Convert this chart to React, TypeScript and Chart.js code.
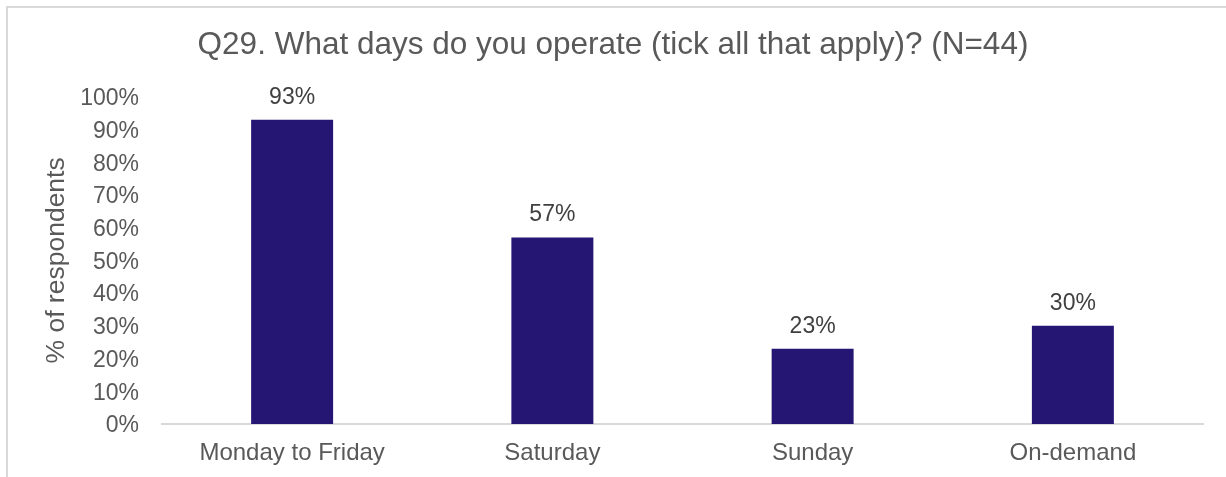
import React, { useEffect, useRef } from "react";
import { Chart, registerables } from "chart.js";

Chart.register(...registerables);

const categories = ["Monday to Friday", "Saturday", "Sunday", "On-demand"];
const values = [93, 57, 23, 30];
const yTicks = [0, 10, 20, 30, 40, 50, 60, 70, 80, 90, 100];
const titleText = "Q29. What days do you operate (tick all that apply)? (N=44)";
const yTitle = "% of respondents";

const FONT = "'Liberation Sans', Arial, sans-serif";

const dataLabels = {
  id: "dataLabels",
  afterDatasetsDraw(chart: any) {
    const ctx = chart.ctx;
    ctx.save();
    ctx.font = `23px ${FONT}`;
    ctx.fillStyle = "#404040";
    ctx.textAlign = "center";
    ctx.textBaseline = "alphabetic";
    chart.data.datasets.forEach((ds: any, di: number) => {
      const meta = chart.getDatasetMeta(di);
      meta.data.forEach((el: any, i: number) => {
        ctx.fillText(`${ds.data[i]}%`, el.x, el.y - 16);
      });
    });
    ctx.restore();
  },
};

export default function App() {
  const ref = useRef<HTMLCanvasElement>(null);
  useEffect(() => {
    if (!ref.current) return;
    const chart = new Chart(ref.current, {
      type: "bar",
      data: {
        labels: categories,
        datasets: [
          {
            data: values,
            backgroundColor: "#261673",
            categoryPercentage: 1,
            barPercentage: 0.315,
          },
        ],
      },
      options: {
        responsive: false,
        animation: false,
        layout: { padding: { left: 23, right: 23, top: 0, bottom: 0 } },
        plugins: {
          legend: { display: false },
          tooltip: { enabled: false },
          title: {
            display: true,
            text: titleText,
            color: "#595959",
            font: { family: FONT, size: 31.5, weight: "normal" },
            padding: { top: 26, bottom: 33 },
          },
        },
        scales: {
          x: {
            afterFit(scale: any) {
              scale.height = 53;
            },
            grid: { display: false, drawTicks: false },
            border: { display: true, color: "#d9d9d9", width: 2 },
            ticks: {
              color: "#595959",
              font: { family: FONT, size: 24 },
              padding: 15,
              maxRotation: 0,
            },
          },
          y: {
            min: 0,
            max: 100,
            afterFit(scale: any) {
              scale.width = 139;
            },
            afterBuildTicks(scale: any) {
              scale.ticks = yTicks.map((v) => ({ value: v }));
            },
            grid: { display: false, drawTicks: false },
            border: { display: false },
            ticks: {
              color: "#595959",
              font: { family: FONT, size: 23 },
              padding: 23,
              labelOffset: 2,
              callback: (v: any) => `${v}%`,
            },
            title: {
              display: true,
              text: yTitle,
              color: "#595959",
              font: { family: FONT, size: 26.5 },
              padding: { top: 18, bottom: 0 },
            },
          },
        },
      },
      plugins: [dataLabels],
    });
    return () => chart.destroy();
  }, []);

  return (
    <div style={{ position: "fixed", left: 0, top: 0, width: 1226, height: 477, overflow: "hidden", background: "#fff" }}>
      <div
        style={{
          position: "absolute",
          left: 6,
          top: 6,
          width: 1300,
          height: 600,
          borderTop: "2px solid #d9d9d9",
          borderLeft: "2px solid #d9d9d9",
        }}
      />
      <canvas ref={ref} width={1226} height={477} style={{ position: "absolute", left: 0, top: 0 }} />
    </div>
  );
}
